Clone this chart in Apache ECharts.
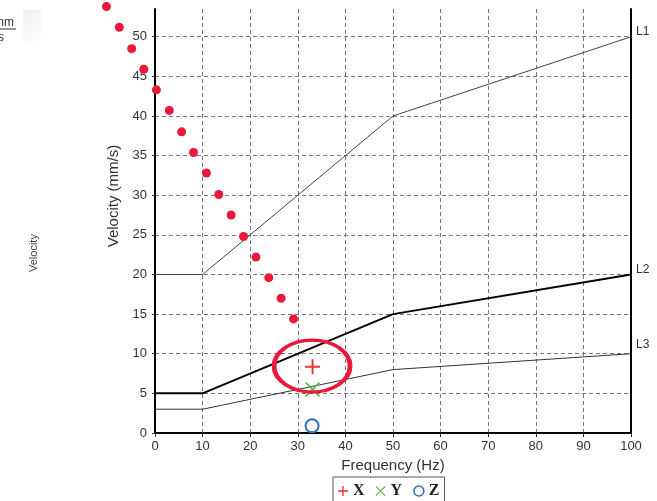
<!DOCTYPE html>
<html><head><meta charset="utf-8">
<script src="https://cdn.jsdelivr.net/npm/echarts@6/dist/echarts.min.js"></script>
<style>html,body{margin:0;padding:0;background:#fff}#c{width:657px;height:501px}</style>
</head><body><div id="c"></div>
<script>
// ---- data ----
const xTickValues = [0,10,20,30,40,50,60,70,80,90,100];
const l1 = [[0,20],[10,20],[50,40],[100,50]];
const l2 = [[0,5],[10,5],[50,15],[100,20]];
const l3 = [[0,3],[10,3],[50,8],[100,10]];
const redDots = [[-10.2,53.8],[-7.5,51.2],[-4.9,48.5],[-2.35,45.9],[0.3,43.3],[3.0,40.7],[5.6,38.0],[8.1,35.4],[10.8,32.8],[13.4,30.1],[16.0,27.5],[18.6,24.8],[21.2,22.2],[23.9,19.6],[26.5,17.0],[29.1,14.4]];
const pointX = [[33.1,8.35]];
const pointY = [[33.1,5.5]];
const pointZ = [[33.0,0.9]];
const highlight = [[33.0,8.45]];
const legendNames = ['X','Y','Z'];

const plusPath = 'path://M4.35,0 H5.65 V4.35 H10 V5.65 H5.65 V10 H4.35 V5.65 H0 V4.35 H4.35 Z';
const crossPath = 'path://M0,0.8 L0.8,0 L5,4.2 L9.2,0 L10,0.8 L5.8,5 L10,9.2 L9.2,10 L5,5.8 L0.8,10 L0,9.2 L4.2,5 Z';

const chart = echarts.init(document.getElementById('c'));
const font = 'Liberation Sans, Arial, sans-serif';
const lineSeries = (name, data, width, color, off) => ({
  type:'line', name, data, symbol:'none', silent:true,
  lineStyle:{width, color}, z:3,
  endLabel:{show:true, formatter:name, color:'#333', fontSize:12, fontFamily:font, distance:5, offset:off}
});
chart.setOption({
  animation:false,
  grid:{left:155, right:26, top:9, bottom:68},
  xAxis:{type:'value', min:0, max:100, interval:10,
    name:'Frequency (Hz)', nameLocation:'middle', nameGap:22,
    nameTextStyle:{fontSize:15, color:'#333', fontFamily:font},
    axisLine:{lineStyle:{color:'#000', width:2}},
    axisTick:{show:true, length:4, lineStyle:{color:'#333'}},
    axisLabel:{fontSize:13, color:'#333', margin:7, fontFamily:font},
    splitLine:{show:true, lineStyle:{color:'#777', type:[4,3], width:1}}
  },
  yAxis:[{type:'value', min:0, max:53.5, interval:5,
    name:'Velocity (mm/s)', nameLocation:'middle', nameRotate:90, nameGap:25,
    nameTextStyle:{fontSize:15, color:'#333', fontFamily:font, padding:[0,0,0,50]},
    axisLine:{show:true, lineStyle:{color:'#000', width:2}},
    axisTick:{show:true, length:3, lineStyle:{color:'#333'}},
    axisLabel:{fontSize:13, color:'#333', margin:8, fontFamily:font, showMaxLabel:false},
    splitLine:{show:true, showMaxLine:false, lineStyle:{color:'#777', type:[4,3], width:1}}
  },{type:'value', min:0, max:53.5, position:'right',
    axisLine:{show:true, lineStyle:{color:'#000', width:2}},
    axisTick:{show:false}, axisLabel:{show:false}, splitLine:{show:false}
  }],
  legend:{data:[
      {name:legendNames[0], icon:plusPath},
      {name:legendNames[1], icon:crossPath},
      {name:legendNames[2], icon:'circle', itemStyle:{borderWidth:1.5}}],
    left:333, top:477, itemWidth:10, itemHeight:10, itemGap:11,
    padding:[6,5,10,5], borderColor:'#555', borderWidth:1,
    textStyle:{fontFamily:'Liberation Serif, Times New Roman, serif', fontSize:16, fontWeight:'bold', color:'#222'}
  },
  series:[
    lineSeries('L1', l1, 1, '#444', [0,-5]),
    lineSeries('L2', l2, 2, '#000', [0,-5]),
    lineSeries('L3', l3, 1, '#333', [0,-9]),
    {type:'scatter', name:'dots', data:redDots, clip:false, symbol:'circle', symbolSize:9,
      itemStyle:{color:'#e8193a', opacity:1}, silent:true, z:4},
    {type:'scatter', name:'X', data:pointX, symbol:plusPath, symbolSize:15,
      itemStyle:{color:'#e8303a', opacity:1}, z:5},
    {type:'scatter', name:'Y', data:pointY, symbol:crossPath, symbolSize:15,
      itemStyle:{color:'#5cb83c', opacity:1}, z:5},
    {type:'scatter', name:'Z', data:pointZ, symbol:'circle', symbolSize:13,
      itemStyle:{color:'rgba(255,255,255,0)', borderColor:'#2e6fc0', borderWidth:2, opacity:1}, z:5},
    {type:'scatter', name:'hl', data:highlight, symbol:'circle', symbolSize:[76,52], silent:true,
      itemStyle:{color:'rgba(0,0,0,0)', borderColor:'#e8193a', borderWidth:4, opacity:1}, z:6}
  ],
  graphic:[
    {type:'rect', shape:{x:23,y:10,width:18,height:34}, silent:true,
      style:{fill:new echarts.graphic.LinearGradient(0,0,1,1,[{offset:0,color:'#f0f0f0'},{offset:1,color:'#ffffff'}])}},
    {type:'text', x:-6, y:17, style:{text:'mm', fill:'#333', font:'12px '+font}},
    {type:'line', shape:{x1:0,y1:29,x2:16,y2:29}, style:{stroke:'#333', lineWidth:1}},
    {type:'text', x:-2, y:32, style:{text:'s', fill:'#333', font:'12px '+font}},
    {type:'text', x:28, y:272, rotation:Math.PI/2, style:{text:'Velocity', fill:'#444', font:'11px '+font}}
  ]
});
</script></body></html>
